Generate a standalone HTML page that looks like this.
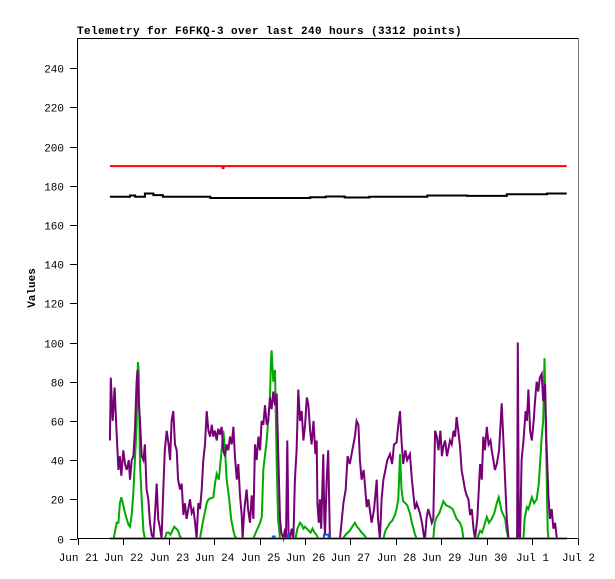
<!DOCTYPE html>
<html><head><meta charset="utf-8"><style>
html,body{margin:0;padding:0;background:#fff;}
svg{display:block;}
text{font-family:"Liberation Mono","DejaVu Sans Mono",monospace;font-size:11px;fill:#000;}
</style></head><body>
<svg id="chart" width="615" height="579" xmlns="http://www.w3.org/2000/svg">
<rect width="615" height="579" fill="#fff"/>
<text x="77" y="34" style="font-weight:bold;font-size:11px;letter-spacing:0.4px">Telemetry for F6FKQ-3 over last 240 hours (3312 points)</text>
<text transform="translate(35,288) rotate(-90)" text-anchor="middle" style="font-weight:bold">Values</text>
<g id="series"></g>
<g id="axes"></g>
</svg>
<script>
const yTicks=[0,20,40,60,80,100,120,140,160,180,200,220,240];
const xTickLabels=["Jun 21","Jun 22","Jun 23","Jun 24","Jun 25","Jun 26","Jun 27","Jun 28","Jun 29","Jun 30","Jul 1","Jul 2"];
const purpleHours=[17,17.5,18.5,19.5,20.5,21.5,22.3,23,24.1,25,25.9,27,27.6,28.5,29.4,30.2,31.1,31.6,32.2,32.9,33.8,34.7,35.5,36.4,37.3,38.2,39,40,41,41.7,42.5,43.5,44.3,45.2,46,47,48,48.8,49.6,50.5,51.4,52.3,53,54,54.9,55.8,56.6,57.5,58.4,59.3,60.2,61.1,62,62.8,63.7,64.6,65.5,66.3,67.2,68.1,69,69.9,70.8,71.6,72.5,73.4,74.2,75.1,76,76.9,77.8,78.7,79.5,80.4,81.3,82.2,83,84,84.8,85.7,86.6,87.1,88,89.2,90,91,91.9,92.8,93.6,94.5,95.4,96.3,97.1,98,98.9,99.8,100.6,101.5,102.4,103.3,104.2,105.1,105.7,106.8,107.5,108.6,109.5,110,110.7,111.3,112.1,113,113.9,114.7,115.6,116.5,117.4,118.3,119.2,120.1,121,121.8,122.7,123.5,124.5,125.5,126.2,126.6,127.3,127.9,128.6,129.7,130.2,130.6,131.5,132.3,133.2,135,137,138.5,140.3,141.5,142.5,143.7,145,146.4,147.3,148.2,149,149.9,151,152.6,153.5,155.2,156.5,157.9,158.6,159.6,160.5,161.4,162.5,163.5,164.9,166,167,168.4,169.3,170.2,171,171.9,173,174,175.4,176.5,177.3,178.1,179,180.7,181.8,183,183.4,184.2,185.1,186,187,187.8,188.7,189.6,190.5,191.5,192.3,193.1,194,195,196.6,197.5,198.5,199.3,200.1,201,201.9,202.7,203.6,204.5,205.4,206.3,207.2,208.1,209,209.8,211,212.5,213.4,214.2,215,216,217,218,218.6,219.5,220.3,221.3,222.5,223.9,224.8,225.7,226.6,227.5,230.1,232,232.4,233,233.6,234.4,235.4,236.5,237.2,238,238.9,239.8,240.8,241.5,242.4,243.2,244,245,245.8,246.8,247.5,248.6,249.4,250.3,251.2,252.1,253,258.2];
const purpleValues=[50,82,60,77,55,35,42,32,45,38,35,40,30,40,42,55,80,86,70,60,42,40,48,25,20,8,2,0,15,28,10,5,0,25,45,55,48,40,60,65,48,45,30,25,28,12,18,10,15,20,13,15,8,0,18,15,25,40,48,65,55,52,58,52,55,50,56,53,57,45,42,48,45,52,48,57,42,30,38,22,12,0,15,25,15,8,22,10,48,40,52,45,60,58,68,58,60,72,66,75,68,74,50,10,3,0,5,0,50,3,0,5,0,30,45,76,60,65,50,58,72,68,55,48,60,43,50,18,8,20,5,43,10,2,30,45,0,0,0,0,18,25,42,38,45,52,60,58,40,30,35,16,20,8,15,30,10,0,20,30,35,40,43,38,48,49,58,65,50,38,45,40,43,30,22,15,18,13,8,0,0,10,15,12,8,10,55,52,45,55,42,47,50,42,50,48,55,52,62,55,47,35,30,25,22,20,12,15,5,0,10,38,30,52,45,57,48,50,45,40,35,38,45,69,50,30,10,0,0,0,100,0,0,40,50,65,60,76,55,50,60,70,80,75,82,84,70,79,50,21,10,15,5,8,0,0];
const greenHours=[17,19,20.6,21.5,22.3,23,24.1,25,25.9,26.8,27.6,28.5,29.4,30.2,31.1,31.8,32.2,32.9,33.8,34.7,35.5,46,47,48,49,50,51,52,53,54,55,64.6,66,68.1,69,71.6,72.5,73.4,74.5,75.5,76.9,77.8,78.7,80,81,82.2,83,84,92.8,94,96.3,97.2,98,99.8,100.6,101.5,102,102.4,103.3,104.2,105.1,105.8,106.8,115,116,117.4,118.3,119.2,120,121,122,123,124,125,126,127,140,141.5,143.7,145,146.4,147.5,148.5,149.9,151,152.6,161.4,162.5,164.9,166,167.5,168.4,169.3,170.2,171,171.9,173,174,175.4,176.5,178.1,179,187.8,188.5,189.6,191,193.1,194.5,196.6,198,200.1,201.9,203,203.6,211,212.5,213.5,214.2,216,217.2,218.6,220,221.3,222.3,223.9,225.7,226.5,227.5,235.4,236,237.2,238,239.8,241,242.4,243.5,244.3,245,245.8,246.5,246.8,247.5,248.2,248.6,258.2];
const greenValues=[0,0,8,8,18,21,17,13,10,7,6,12,24,40,57,90,85,38,20,4,0,0,3,3,2,4,6,5,4,1,0,0,8,18,20,21,28,33,30,40,55,45,30,20,10,4,1,0,0,3,8,11,35,50,60,70,90,96,80,86,38,10,0,0,5,8,7,5,6,5,4,3,5,3,2,0,0,2,4,6,8,6,5,3,2,0,0,4,8,9,12,15,20,43,25,19,18,17,13,8,2,0,0,8,11,13,19,17,16,15,10,8,5,0,0,4,3,5,11,8,10,13,18,21,14,10,4,0,0,10,16,15,21,18,20,28,40,52,60,92,75,40,4,0,0];
const blueHours=[17,102,103,104,110.5,111,111.5,129.5,130,132,132.5,258.2];
const blueValues=[0,0,1,0,0,2,0,0,2,2,0,0];
const redHours=[17,76,76.5,77,258.2];
const redValues=[190,190,189,190,190];
const blackHours=[17,27.6,30.3,35.5,40,45,70,122.7,131,141,154,184.6,205.6,226.6,247.8,258.2];
const blackValues=[174.4,175,174.4,176,175.2,174.4,173.7,174.1,174.5,174,174.4,175,174.8,175.6,176,176];

const X0=77.7, PX_PER_HOUR=45.45/24, Y0=538.5, PX_PER_UNIT=1.96;
function xs(h){return X0+h*PX_PER_HOUR;}
function ys(v){return Y0-v*PX_PER_UNIT;}
const NS="http://www.w3.org/2000/svg";
const axes=document.getElementById('axes'), series=document.getElementById('series');
function mk(tag,attrs,parent){const e=document.createElementNS(NS,tag);for(const k in attrs)e.setAttribute(k,attrs[k]);parent.appendChild(e);return e;}

const frame=mk('path',{d:'M77.5,38.5 H578.5 M77.5,38.5 V538.5 H578.5',fill:'none',stroke:'#000','stroke-width':1},axes);


const rb=mk('line',{x1:578.5,y1:38,x2:578.5,y2:539,stroke:'#777','stroke-width':1},axes);



yTicks.forEach(v=>{
  const y=Math.round(ys(v))+0.5;
  const t=mk('line',{x1:70,y1:y,x2:77,y2:y,stroke:'#000'},axes);
  
  
  const l=mk('text',{x:64,y:y+4,'text-anchor':'end'},axes);
  l.textContent=v;
  
  
});
xTickLabels.forEach((s,i)=>{
  const x=Math.round(xs(i*24))+0.5;
  const t=mk('line',{x1:x,y1:539,x2:x,y2:545,stroke:'#000'},axes);
  
  
  const l=mk('text',{x:x,y:561,'text-anchor':'middle'},axes);
  l.textContent=s;
  
  
});

function stepPath(hs,vs){
  let d='M'+xs(hs[0]).toFixed(1)+','+ys(vs[0]).toFixed(1);
  for(let i=1;i<hs.length;i++){d+=' H'+xs(hs[i]).toFixed(1)+' V'+ys(vs[i]).toFixed(1);}
  return d;
}
function linePath(hs,vs){
  return hs.map((h,i)=>(i?'L':'M')+xs(h).toFixed(1)+','+ys(vs[i]).toFixed(1)).join(' ');
}
const g=mk('path',{d:linePath(greenHours,greenValues),fill:'none',stroke:'#00aa00','stroke-width':2},series);


const p=mk('path',{d:linePath(purpleHours,purpleValues),fill:'none',stroke:'#770077','stroke-width':2},series);


const b=mk('path',{d:stepPath(blueHours,blueValues),fill:'none',stroke:'#0066cc','stroke-width':2},series);


const r=mk('path',{d:stepPath(redHours,redValues),fill:'none',stroke:'#ff0000','stroke-width':2},series);


const k=mk('path',{d:stepPath(blackHours,blackValues),fill:'none',stroke:'#000','stroke-width':2},series);


</script>
</body></html>
